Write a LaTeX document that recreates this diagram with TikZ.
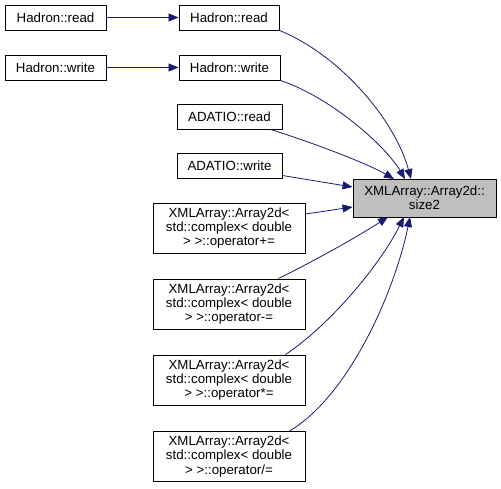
\documentclass[tikz,border=0pt]{standalone}
\usepackage{fontspec}
\setmainfont{Liberation Sans}
\usetikzlibrary{arrows.meta}
\definecolor{edgeblue}{HTML}{191970}
\definecolor{selfgray}{HTML}{BFBFBF}

\begin{document}
\begin{tikzpicture}[x=1pt,y=-1pt,box/.style={draw=black,fill=white,align=center,inner sep=0pt,line width=0.9pt,minimum height=25pt,font=\fontsize{13.3}{14.2}\selectfont},arr/.style={-{Triangle[length=10pt,width=8pt]},color=edgeblue,line width=0.8pt}]
\useasboundingbox (0,0) rectangle (501,488);
% callers of callers
\node[box,minimum width=101pt] (hreadL) at (55.5,17.5) {Hadron::read};
\node[box,minimum width=101pt] (hwriteL) at (55.5,67.5) {Hadron::write};
% direct callers
\node[box,minimum width=100pt] (hread) at (229,17.5) {Hadron::read};
\node[box,minimum width=101pt] (hwrite) at (229.5,67.5) {Hadron::write};
\node[box,minimum width=105pt] (aread) at (229.5,116.5) {ADATIO::read};
\node[box,minimum width=105pt] (awrite) at (229.5,165.5) {ADATIO::write};
\node[box,minimum width=152pt,minimum height=50pt] (opplus) at (229,228) {XMLArray::Array2d\textless\\std::complex\textless{} double\\\textgreater{} \textgreater::operator+=};
\node[box,minimum width=152pt,minimum height=50pt] (opminus) at (229,304) {XMLArray::Array2d\textless\\std::complex\textless{} double\\\textgreater{} \textgreater::operator-=};
\node[box,minimum width=152pt,minimum height=50pt] (optimes) at (229,380) {XMLArray::Array2d\textless\\std::complex\textless{} double\\\textgreater{} \textgreater::operator*=};
\node[box,minimum width=152pt,minimum height=50pt] (opdiv) at (229,456.5) {XMLArray::Array2d\textless\\std::complex\textless{} double\\\textgreater{} \textgreater::operator/=};
% the function itself
\node[box,fill=selfgray,minimum width=143pt,minimum height=38pt] (size) at (424.5,198) {XMLArray::Array2d::\\size2};
% edges
\draw[arr] (hreadL) -- (hread);
\draw[arr] (hwriteL) -- (hwrite);
\draw[arr] (hread.south east) .. controls (340,55) and (395,120) .. (411,179);
\draw[arr] (hwrite.south east) .. controls (330,97) and (385,145) .. (405,179);
\draw[arr] (aread.south east) ++(-12,0) .. controls (320,145) and (370,165) .. (394,179);
\draw[arr] (awrite.east) ++(0,10) -- (size.west |- 0,187);
\draw[arr] (opplus.east) ++(0,-14) -- (size.west |- 0,207);
\draw[arr] (opminus.north east) ++(-27,0) .. controls (320,258) and (360,235) .. (388,217);
\draw[arr] (optimes.north east) ++(-20,0) .. controls (330,325) and (380,265) .. (404,217);
\draw[arr] (opdiv.north east) ++(-16,0) .. controls (350,395) and (395,290) .. (410,217);
\end{tikzpicture}
\end{document}
